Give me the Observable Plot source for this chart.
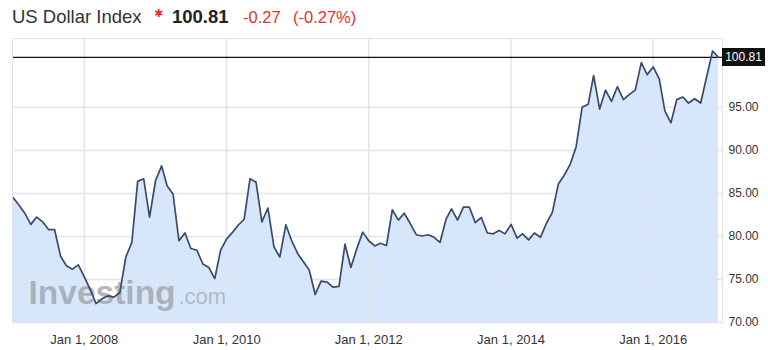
<!DOCTYPE html>
<html>
<head>
<meta charset="utf-8">
<script src="https://cdn.jsdelivr.net/npm/d3@7"></script>
<script src="https://cdn.jsdelivr.net/npm/@observablehq/plot@0.6"></script>
<style>
  body { margin: 0; background: #fff; font-family: Arial, "Liberation Sans", sans-serif; }
  #title { display: block; }
  #chart { position: relative; width: 768px; }
  #chart svg { display: block; }
  #lastBox { position: absolute; left: 722px; width: 43px; height: 18px; background: #111; color: #fff;
    font: 12px Arial, "Liberation Sans", sans-serif; line-height: 18px; text-align: center; }
</style>
</head>
<body>
<svg id="title" width="768" height="38">
  <text x="12" y="23" font-size="18.5" fill="#333" font-family="Arial, 'Liberation Sans', sans-serif">US Dollar Index</text>
  <text x="154" y="17" font-size="11" fill="#e8302c" font-weight="bold" font-family="DejaVu Sans, sans-serif">✱</text>
  <text x="172" y="23" font-size="18.5" fill="#222" font-weight="bold" font-family="Arial, 'Liberation Sans', sans-serif">100.81</text>
  <text x="243" y="23" font-size="16.5" fill="#e8302c" font-family="Arial, 'Liberation Sans', sans-serif">-0.27</text>
  <text x="293" y="23" font-size="16.5" fill="#e8302c" font-family="Arial, 'Liberation Sans', sans-serif">(-0.27%)</text>
</svg>
<div id="chart"></div>
<script>
// Monthly closes, Jan 2007 – Dec 2016
const startMonth = "2007-01-01";
const values = [
  84.5, 83.6, 82.7, 81.4, 82.25, 81.7, 80.8, 80.8, 77.7, 76.6, 76.2, 76.7,
  75.3, 73.8, 72.2, 72.75, 73.1, 72.95, 73.45, 77.6, 79.3, 86.4, 86.7, 82.25,
  86.5, 88.2, 85.9, 84.9, 79.5, 80.4, 78.6, 78.4, 76.8, 76.4, 75.1, 78.4,
  79.7, 80.5, 81.3, 82.0, 86.7, 86.3, 81.7, 83.3, 78.8, 77.6, 81.35, 79.5,
  78.0, 77.0, 76.1, 73.25, 74.8, 74.7, 74.1, 74.2, 79.1, 76.4, 78.6, 80.5,
  79.5, 78.9, 79.2, 78.95, 83.1, 81.9, 82.7, 81.5, 80.2, 80.05, 80.2, 79.9,
  79.3, 82.0, 83.2, 81.9, 83.4, 83.4, 81.6, 82.2, 80.4, 80.3, 80.7, 80.3,
  81.4, 79.8, 80.3, 79.6, 80.4, 79.9, 81.5, 82.8, 86.1, 87.1, 88.4, 90.4,
  95.0, 95.35, 98.7, 94.8, 97.0, 95.7, 97.4, 95.9, 96.5, 97.0, 100.2, 98.8,
  99.7, 98.3, 94.6, 93.2, 95.9, 96.2, 95.5, 96.0, 95.5, 98.5, 101.55, 100.81
];
const lastValue = 100.81;
const yTicks = [70, 75, 80, 85, 90, 95];
const xTickLabels = ["2008-01-01", "2010-01-01", "2012-01-01", "2014-01-01", "2016-01-01"];

const start = new Date(startMonth);
const data = values.map((v, i) => ({ date: d3.utcMonth.offset(start, i), value: v }));
const xTicks = xTickLabels.map(s => new Date(s));
const fmtDate = d3.utcFormat("%b %-d, %Y");

const chart = Plot.plot({
  width: 768,
  height: 312,
  marginTop: 0,
  marginBottom: 28,
  marginLeft: 12,
  marginRight: 46,
  style: { fontFamily: "Arial, 'Liberation Sans', sans-serif", color: "#333", background: "#fff" },
  x: { type: "utc", domain: [new Date("2006-12-28"), new Date("2016-12-22")] },
  y: { domain: [70, 103] },
  marks: [
    Plot.areaY(data, { x: "date", y1: 70, y2: "value", fill: "#d6e7fc" }),
    Plot.gridY(yTicks, { stroke: "#dfe2ec", strokeOpacity: 0.9, strokeWidth: 1.5 }),
    Plot.gridX(xTicks, { stroke: "#dfe2ec", strokeOpacity: 0.9, strokeWidth: 1.5 }),
    Plot.text(["Investing"], { frameAnchor: "bottom-left", dx: 16, dy: -19, lineAnchor: "bottom", textAnchor: "start", text: d => d, fontSize: 33.5, fontWeight: "bold", fill: "#9a9fa5", fillOpacity: 0.75 }),
    Plot.text([".com"], { frameAnchor: "bottom-left", dx: 166, dy: -19, lineAnchor: "bottom", textAnchor: "start", text: d => d, fontSize: 22, fill: "#9a9fa5", fillOpacity: 0.65 }),
    Plot.ruleY([lastValue], { stroke: "#111", strokeWidth: 1.2 }),
    Plot.lineY(data, { x: "date", y: "value", stroke: "#3a4a6c", strokeWidth: 1.7 }),
    Plot.frame({ stroke: "#e3e3e8" }),
    Plot.axisY(yTicks, { anchor: "right", tickSize: 0, tickPadding: 6, tickFormat: d3.format(".2f"), fontSize: 12, label: null, fill: "#333" }),
    Plot.axisX(xTicks, { anchor: "bottom", tickSize: 0, tickPadding: 12, tickFormat: fmtDate, fontSize: 13, label: null, fill: "#333" })
  ]
});

const container = document.getElementById("chart");
container.appendChild(chart);

// current value label box on the right axis, placed with the plot's y scale
const yPos = chart.scale("y").apply(lastValue);
const box = document.createElement("div");
box.id = "lastBox";
box.style.top = (yPos - 9) + "px";
box.textContent = d3.format(".2f")(lastValue);
container.appendChild(box);
</script>
</body>
</html>
